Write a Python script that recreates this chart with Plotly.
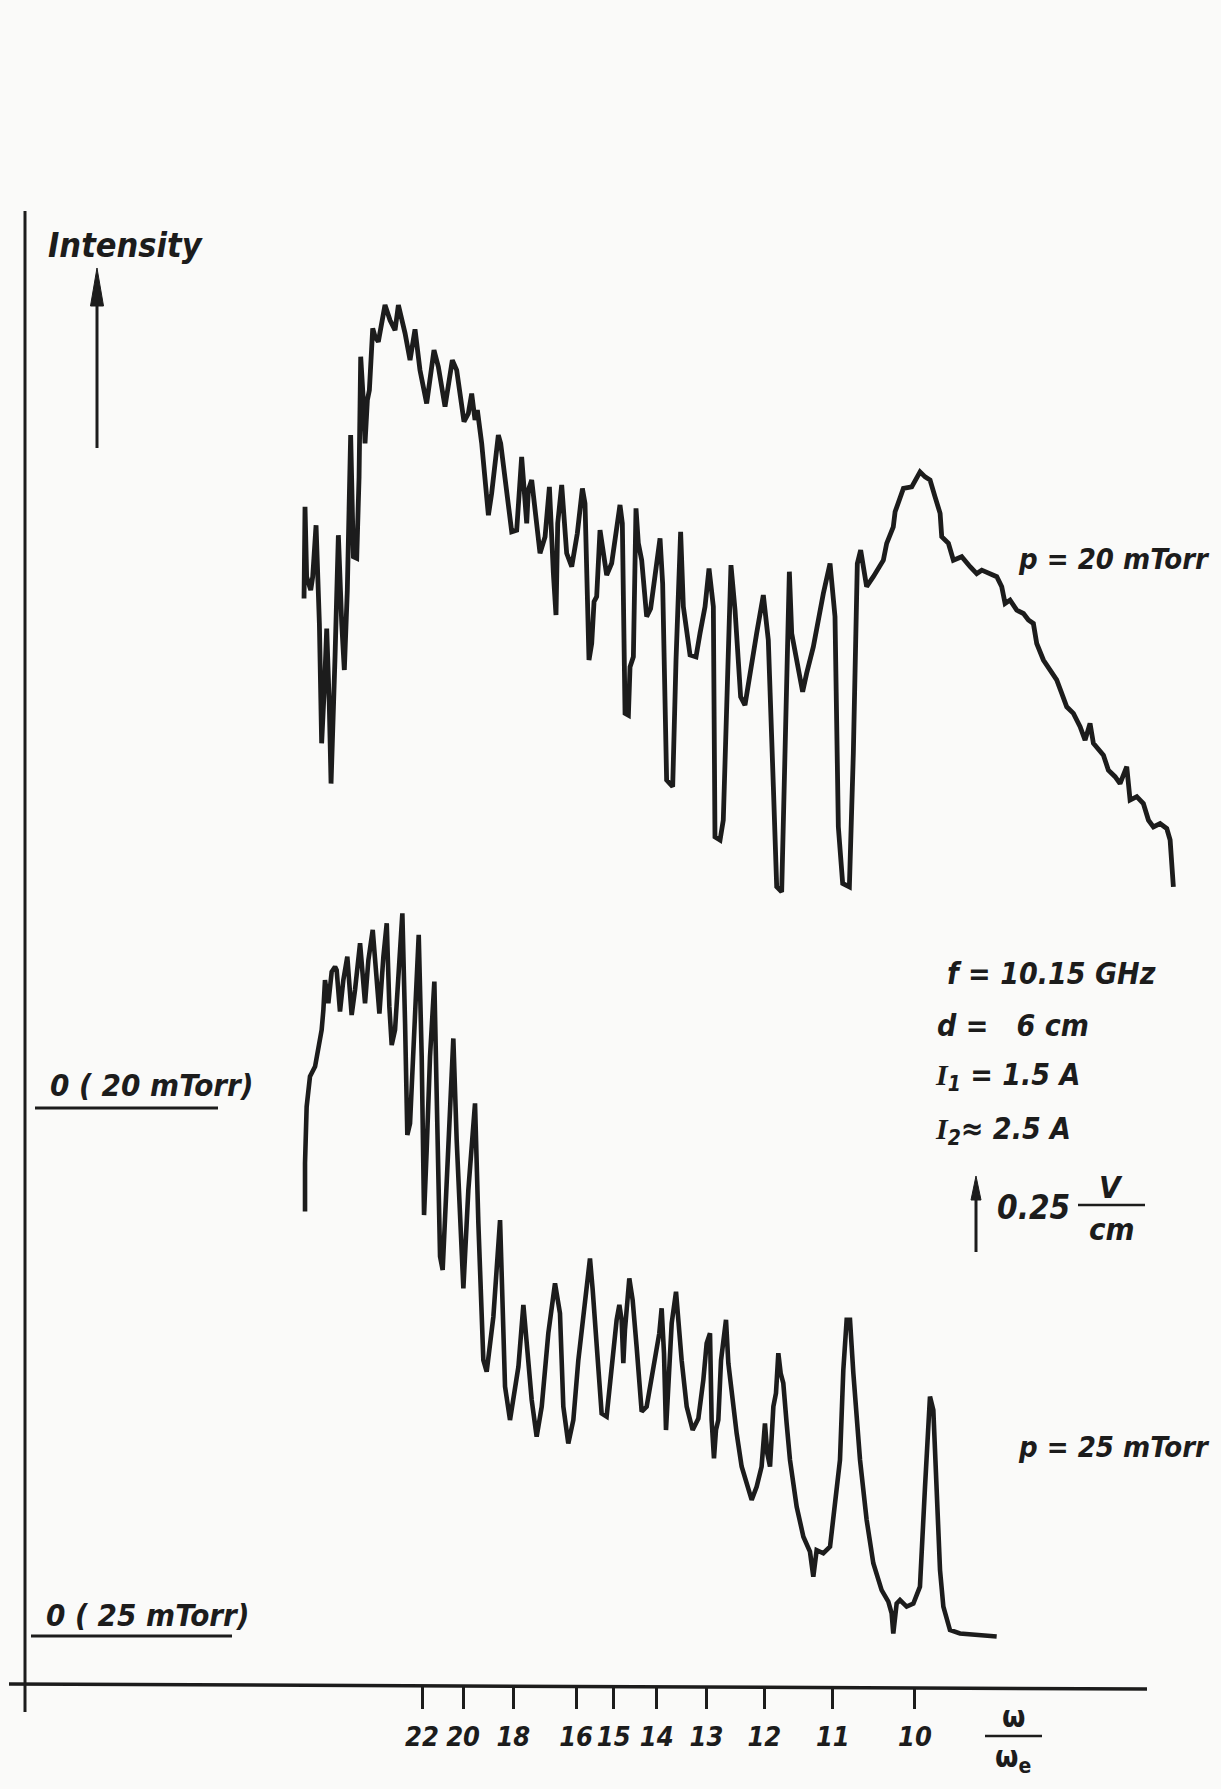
import plotly.graph_objects as go

W, H = 1221, 1789
INK = "#1c1c1c"
BG = "#fafaf9"
FONT = "DejaVu Sans Condensed, DejaVu Sans"

# x axis is linear in omega_e/omega ; tick labels are omega/omega_e
tick_labels = [22, 20, 18, 16, 15, 14, 13, 12, 11, 10]

# ---- p = 20 mTorr trace : x = 1000*omega_e/omega, v = field amplitude (V/cm) above its own zero
upper_x = [
    32.40, 32.51, 32.69, 33.14, 33.36, 33.73, 34.10, 34.35, 34.72, 34.91,
    35.20, 35.39, 35.83, 36.20, 36.57, 36.86, 37.19, 37.56, 37.86, 38.23,
    38.49, 38.67, 38.96, 39.15, 39.41, 39.63, 40.00, 40.26, 40.62, 41.36,
    41.92, 42.47, 42.84, 43.58, 44.13, 44.68, 45.23, 45.97, 46.78, 47.26,
    48.00, 48.81, 49.29, 50.10, 50.58, 50.95, 51.32, 51.58, 52.06, 52.80,
    53.16, 53.90, 54.16, 54.82, 55.38, 55.93, 56.48, 57.04, 57.22, 57.59,
    57.78, 58.51, 59.07, 59.55, 59.99, 60.28, 60.47, 60.91, 61.46, 62.02,
    62.64, 63.20, 63.49, 63.93, 64.23, 64.49, 64.78, 65.15, 65.89, 66.44,
    67.36, 67.62, 67.92, 68.29, 68.47, 68.84,
    69.13, 69.39, 69.76, 70.31, 70.75, 71.34, 71.79, 72.08, 72.52, 73.19,
    73.56, 74.07, 74.37, 75.11, 75.77, 76.21, 76.77, 77.21, 77.69, 77.87,
    78.43, 78.79, 79.09, 79.64, 80.09, 80.34, 80.71, 81.19, 81.56, 82.48,
    83.22, 83.77, 84.33, 84.70, 85.25, 85.62, 86.10, 86.36, 86.91, 87.57,
    88.01, 88.75, 89.86, 90.60, 91.15, 91.52, 92.00, 92.74, 93.18, 93.62,
    93.99, 94.29, 94.65, 95.39, 96.50, 96.87, 97.60,
    97.80, 98.72, 99.64, 100.19, 100.56, 101.12, 101.67, 102.22, 102.78, 102.96,
    103.70, 104.25, 105.17, 106.10, 106.83, 107.39, 108.12, 109.05, 109.60, 109.97,
    110.52, 111.26, 112.00, 112.55, 113.10, 113.47, 114.21, 114.95, 115.68, 116.24,
    116.79, 117.53, 118.27, 118.82, 119.37, 119.74, 120.85, 121.40, 122.14, 122.69,
    123.43, 123.80, 124.54, 125.27, 125.83, 126.38, 127.12, 127.86, 128.23, 128.59,
]
upper_v = [
    1.630, 1.924, 1.700, 1.657, 1.700, 1.865, 1.550, 1.166, 1.390, 1.534,
    1.283, 1.037, 1.443, 1.833, 1.550, 1.401, 1.657, 2.154, 1.764, 1.759,
    2.020, 2.405, 2.266, 2.127, 2.266, 2.298, 2.496, 2.469, 2.453, 2.571,
    2.522, 2.490, 2.571, 2.480, 2.394, 2.493, 2.362, 2.255, 2.426, 2.373,
    2.245, 2.394, 2.362, 2.197, 2.223, 2.287, 2.202, 2.234, 2.127, 1.897,
    1.967, 2.154, 2.127, 1.978, 1.844, 1.849, 2.084, 1.871, 1.978, 2.010,
    1.967, 1.775, 1.828, 1.988, 1.711, 1.577, 1.871, 1.994, 1.775, 1.732,
    1.839, 1.983, 1.935, 1.433, 1.486, 1.620, 1.636, 1.849, 1.705, 1.743,
    1.930, 1.871, 1.262, 1.256, 1.411, 1.443,
    1.919, 1.807, 1.753, 1.572, 1.598, 1.721, 1.823, 1.678, 1.048, 1.027,
    1.433, 1.844, 1.604, 1.449, 1.443, 1.518, 1.604, 1.726, 1.604, 0.866,
    0.856, 0.920, 1.198, 1.737, 1.593, 1.475, 1.315, 1.288, 1.358, 1.518,
    1.641, 1.497, 1.027, 0.706, 0.690, 1.134, 1.716, 1.518, 1.433, 1.331,
    1.390, 1.475, 1.646, 1.742, 1.572, 0.898, 0.717, 0.706, 1.134, 1.742,
    1.785, 1.732, 1.668, 1.700, 1.753, 1.807, 1.860,
    1.908, 1.983, 1.988, 2.020, 2.036, 2.020, 2.010, 1.956, 1.903, 1.828,
    1.807, 1.753, 1.764, 1.732, 1.710, 1.721, 1.710, 1.700, 1.668, 1.614,
    1.625, 1.593, 1.582, 1.561, 1.550, 1.486, 1.433, 1.401, 1.369, 1.326,
    1.283, 1.262, 1.219, 1.176, 1.230, 1.166, 1.128, 1.080, 1.059, 1.037,
    1.091, 0.984, 0.995, 0.973, 0.920, 0.898, 0.909, 0.893, 0.856, 0.706,
]

# ---- p = 25 mTorr trace
lower_x = [
    32.51, 32.51, 32.69, 33.06, 33.62, 33.99, 34.35, 34.54, 34.72, 35.09,
    35.46, 35.83, 36.01, 36.38, 36.75, 37.19, 37.67, 38.04, 38.60, 39.15,
    39.52, 40.00, 40.37, 40.74, 41.18, 41.55, 41.84, 42.10, 42.47, 42.84,
    43.28, 43.58, 43.83, 44.13, 44.68, 45.09, 45.42, 45.68, 45.97, 46.34,
    46.82, 47.08, 47.45, 47.74, 48.19, 48.92, 49.29, 50.03, 50.58, 51.06,
    51.32, 51.69,
    52.24, 52.61, 53.35, 54.09, 54.27, 54.64, 55.19, 56.12, 56.67, 57.04,
    57.59, 58.14, 58.70, 59.43, 60.17,
    60.72, 61.09, 61.64, 62.20, 62.75, 63.30, 63.67, 64.04, 64.34, 64.78,
    65.33, 65.88, 66.44, 66.99, 67.29, 67.54, 67.73, 67.91, 68.39, 68.76,
    69.20, 69.76, 70.31, 71.05, 71.71, 71.97, 72.23, 72.45, 72.71, 73.08,
    73.56, 73.81, 74.18, 74.74, 75.40, 76.03, 76.58, 76.95, 77.32, 77.50,
    77.76, 77.98, 78.24, 78.54, 78.79, 79.09, 79.35, 79.72, 80.27, 80.82,
    81.37, 81.93, 82.48, 83.03, 83.40, 83.66, 83.96, 84.33, 84.62, 84.88,
    85.14, 85.43, 85.80, 86.17, 86.91, 87.65, 88.38, 88.75, 89.12, 89.86,
    90.60, 91.15, 91.70, 92.07, 92.44, 92.81, 93.18, 93.92, 94.65, 95.39,
    96.31, 97.05, 97.42, 97.60, 97.97, 98.34, 99.08, 99.82, 100.55, 101.11,
    101.48, 101.66, 102.03, 102.40, 102.77, 103.14, 103.87, 104.98, 106.82, 109.04,
]
lower_v = [
    1.357, 1.512, 1.693, 1.790, 1.822, 1.886, 1.939, 2.003, 2.099, 2.025,
    2.126, 2.142, 2.131, 1.998, 2.099, 2.174, 1.987, 2.067, 2.217, 2.025,
    2.163, 2.260, 2.099, 1.992, 2.174, 2.281, 2.014, 1.891, 1.939, 2.121,
    2.313, 1.960, 1.603, 1.640, 1.960, 2.244, 1.854, 1.346, 1.554, 1.854,
    2.094, 1.747, 1.213, 1.170, 1.426, 1.912, 1.586, 1.111, 1.426, 1.640,
    1.704, 1.319,
    0.881, 0.844, 1.020, 1.330, 1.127, 0.796, 0.689, 0.860, 1.058, 0.946,
    0.753, 0.636, 0.732, 0.967, 1.127,
    1.031, 0.732, 0.614, 0.689, 0.881, 1.026, 1.116, 1.207, 1.106, 0.924,
    0.710, 0.700, 0.860, 1.010, 1.058, 1.010, 0.871, 0.978, 1.143, 1.074,
    0.924, 0.716, 0.732, 0.860, 0.967, 1.047, 0.903, 0.657, 0.796, 0.999,
    1.100, 0.999, 0.881, 0.732, 0.657, 0.694, 0.817, 0.935, 0.967, 0.689,
    0.566, 0.657, 0.689, 0.881, 0.946, 1.010, 0.871, 0.775, 0.646, 0.540,
    0.486, 0.433, 0.475, 0.540, 0.678, 0.582, 0.540, 0.732, 0.775, 0.903,
    0.839, 0.807, 0.678, 0.561, 0.411, 0.315, 0.267, 0.187, 0.272, 0.262,
    0.283, 0.422, 0.561, 0.849, 1.010, 1.010, 0.839, 0.561, 0.369, 0.230,
    0.144, 0.107, 0.069, 0.005, 0.101, 0.112, 0.091, 0.101, 0.155, 0.475,
    0.700, 0.764, 0.721, 0.475, 0.208, 0.091, 0.016, 0.005, 0.000, -0.005,
]
assert len(upper_x) == len(upper_v), (len(upper_x), len(upper_v))
assert len(lower_x) == len(lower_v), (len(lower_x), len(lower_v))

OFFSET_20 = 1.692      # V/cm : zero line of the 20 mTorr trace above that of 25 mTorr
X_RANGE = [-1.24, 133.86]
Y_RANGE = [-0.4936, 5.2404]

fig = go.Figure()
fig.add_trace(go.Scatter(x=upper_x, y=[v + OFFSET_20 for v in upper_v], mode="lines",
                         line=dict(color=INK, width=4.8, shape="linear"),
                         hoverinfo="skip", showlegend=False))
fig.add_trace(go.Scatter(x=lower_x, y=lower_v, mode="lines",
                         line=dict(color=INK, width=4.6, shape="linear"),
                         hoverinfo="skip", showlegend=False))


def px(x):
    return x / W


def py(y):
    return 1 - y / H


annotations = []


def label(text, x, y, size=29, xanchor="left", family=FONT, style="italic"):
    annotations.append(dict(text=text, x=px(x), y=py(y), xref="paper", yref="paper",
                            xanchor=xanchor, yanchor="middle", showarrow=False,
                            font=dict(family=family, size=size, color=INK,
                                      style=style, weight="bold")))


shapes = []


def seg(x0, y0, x1, y1, w=3):
    shapes.append(dict(type="line", xref="paper", yref="paper", x0=px(x0), y0=py(y0),
                       x1=px(x1), y1=py(y1), line=dict(color=INK, width=w)))


def arrow(x, y_tip, y_tail, head_len, half_w, w=3):
    seg(x, y_tail, x, y_tip + head_len - 2, w)
    path = "M {:.5f},{:.5f} L {:.5f},{:.5f} L {:.5f},{:.5f} Z".format(
        px(x), py(y_tip), px(x - half_w), py(y_tip + head_len),
        px(x + half_w), py(y_tip + head_len))
    shapes.append(dict(type="path", xref="paper", yref="paper", path=path,
                       fillcolor=INK, line=dict(color=INK, width=1)))


ISPAN = '<span style="font-family:\'Liberation Serif\'">I</span>'

# axes
seg(25, 211, 25, 1712, 3)
seg(9, 1684, 1147, 1689, 3.5)

# intensity label + arrow
label("Intensity", 46, 245, 34)
arrow(97, 268, 448, 38, 6.5, 3)

# zero labels
label("0 ( 20 mTorr)", 48, 1085, 31)
seg(35, 1108, 218, 1108, 3)
label("0 ( 25 mTorr)", 44, 1615, 31)
seg(31, 1636, 232, 1636, 3)

# pressure labels
label("p = 20 mTorr", 1016, 559, 29)
label("p = 25 mTorr", 1016, 1447, 29)

# parameters
label("f = 10.15 GHz", 945, 973, 30)
label("d =\u00a0\u00a0\u00a06 cm", 935, 1025, 30)
label(ISPAN + "<sub>1</sub> = 1.5 A", 933, 1076, 30)
label(ISPAN + "<sub>2</sub>≈ 2.5 A", 933, 1130, 30)

# scale bar
arrow(976, 1176, 1252, 24, 5, 3)
label("0.25", 995, 1207, 33)
label("V", 1111, 1187, 31, "center")
seg(1078, 1205, 1145, 1205, 2.5)
label("cm", 1112, 1229, 31, "center")

# axis unit omega/omega_e
label("ω", 1013, 1716, 30, "center", style="normal")
seg(985, 1736, 1042, 1736, 2.5)
label("ω<sub>e</sub>", 1013, 1758, 30, "center", style="normal")

fig.update_layout(
    width=W, height=H,
    margin=dict(l=0, r=0, t=0, b=0),
    paper_bgcolor=BG, plot_bgcolor=BG,
    showlegend=False,
    xaxis=dict(range=X_RANGE, tickvals=[1000.0 / n for n in tick_labels],
               ticktext=[str(n) for n in tick_labels],
               anchor="free", position=1 - 1686 / H,
               ticks="outside", ticklen=22, tickwidth=2.5, tickcolor=INK,
               showgrid=False, zeroline=False, showline=False,
               tickangle=0, ticklabelstandoff=5,
               tickfont=dict(family=FONT, size=27, color=INK, style="italic", weight="bold"),
               fixedrange=True),
    yaxis=dict(range=Y_RANGE, visible=False, fixedrange=True),
    annotations=annotations,
    shapes=shapes,
)

fig.write_html("out.html")
